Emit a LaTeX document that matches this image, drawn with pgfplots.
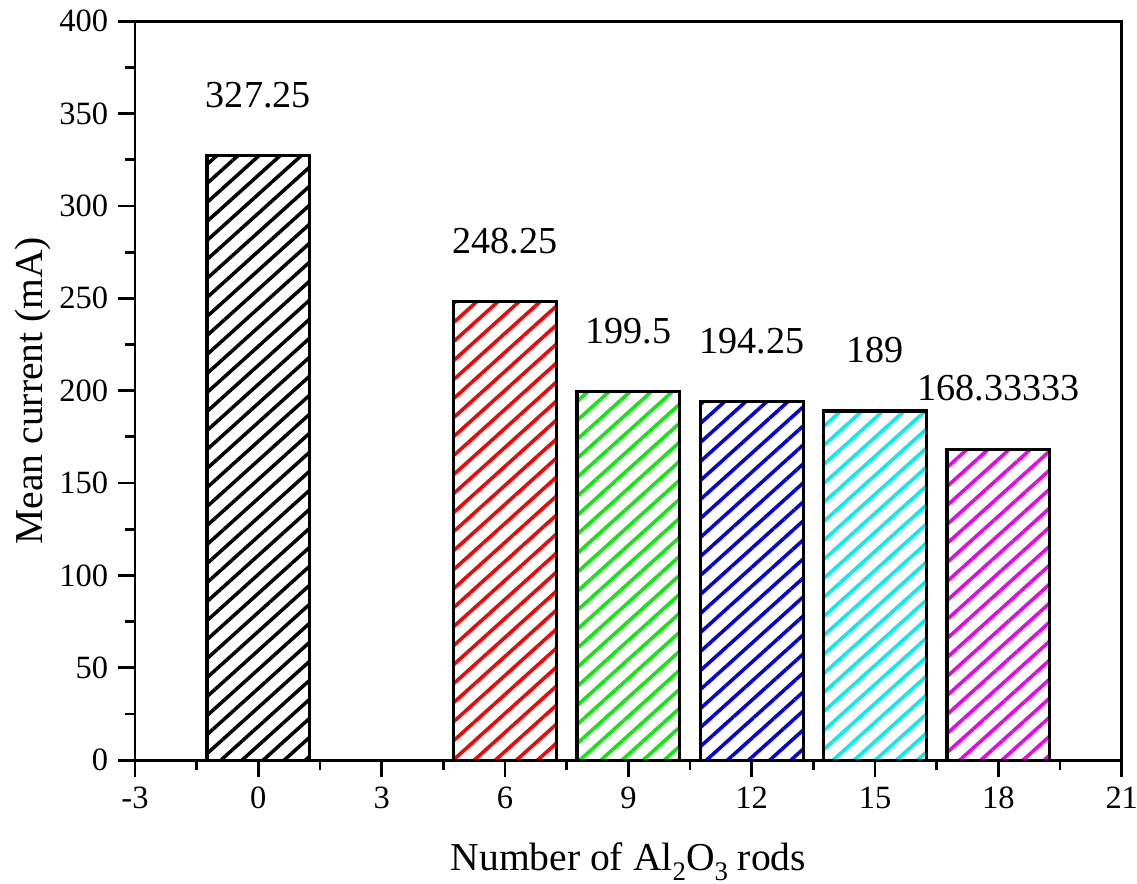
\documentclass[border=0pt]{standalone}
\usepackage{pgfplots}
\pgfplotsset{compat=1.18}
\usepackage{pgfplotstable}
\usetikzlibrary{patterns.meta}
\usepackage{fontspec}
\setmainfont{Liberation Serif}
\definecolor{cgreen}{RGB}{10,235,10}
\definecolor{cblue}{RGB}{0,0,235}
\definecolor{ccyan}{RGB}{0,240,240}
\definecolor{cmag}{RGB}{240,0,240}
\newcommand{\sub}[1]{\raisebox{-3.5pt}{\fontsize{9.5}{10}\selectfont #1}}
\begin{document}
\begin{tikzpicture}
\begin{axis}[
  name=ax,
  scale only axis,
  width=349.3pt, height=261.6pt,
  xmin=-3, xmax=21, ymin=0, ymax=400,
  xtick={-3,0,...,21}, ytick={0,50,...,400},
  minor x tick num=1, minor y tick num=1,
  tick align=outside,
  xtick pos=bottom, ytick pos=left,
  major tick length=6pt, minor tick length=3.5pt,
  every tick/.style={black, line width=1pt},
  axis line style={line width=1pt},
  tick label style={font=\fontsize{11.5}{13}\selectfont},
  /pgf/number format/assume math mode=true,
  label style={font=\fontsize{14}{16}\selectfont},
  xlabel={Number of Al\sub{2}O\sub{3} rods},
  ylabel={Mean current (mA)},
  xlabel style={yshift=-5pt},
  ylabel style={yshift=-4pt},
  every node near coord/.style={font=\fontsize{13.5}{15}\selectfont, anchor=south, yshift=13pt, black},
  nodes near coords={\pgfplotspointmeta},
  point meta=explicit symbolic,
]
\addplot[ybar, bar width=2.5, bar shift=0pt, draw=black, line width=1.1pt,
  pattern={Lines[angle=42,distance=5pt,line width=1.25pt]}, pattern color=black]
  coordinates {(0,327.25) [327.25]};
\addplot[ybar, bar width=2.5, bar shift=0pt, draw=black, line width=1.1pt,
  pattern={Lines[angle=42,distance=5pt,line width=1.25pt]}, pattern color=red]
  coordinates {(6,248.25) [248.25]};
\addplot[ybar, bar width=2.5, bar shift=0pt, draw=black, line width=1.1pt,
  pattern={Lines[angle=42,distance=5pt,line width=1.25pt]}, pattern color=cgreen]
  coordinates {(9,199.5) [199.5]};
\addplot[ybar, bar width=2.5, bar shift=0pt, draw=black, line width=1.1pt,
  pattern={Lines[angle=42,distance=5pt,line width=1.25pt]}, pattern color=cblue]
  coordinates {(12,194.25) [194.25]};
\addplot[ybar, bar width=2.5, bar shift=0pt, draw=black, line width=1.1pt,
  pattern={Lines[angle=42,distance=5pt,line width=1.25pt]}, pattern color=ccyan]
  coordinates {(15,189) [189]};
\addplot[ybar, bar width=2.5, bar shift=0pt, draw=black, line width=1.1pt,
  pattern={Lines[angle=42,distance=5pt,line width=1.25pt]}, pattern color=cmag]
  coordinates {(18,168.33333) [168.33333]};
\end{axis}
\pgfresetboundingbox
\path (ax.south west) ++(-47.8pt,-43.5pt) rectangle +(402.5pt,312.6pt);
\end{tikzpicture}
\end{document}
